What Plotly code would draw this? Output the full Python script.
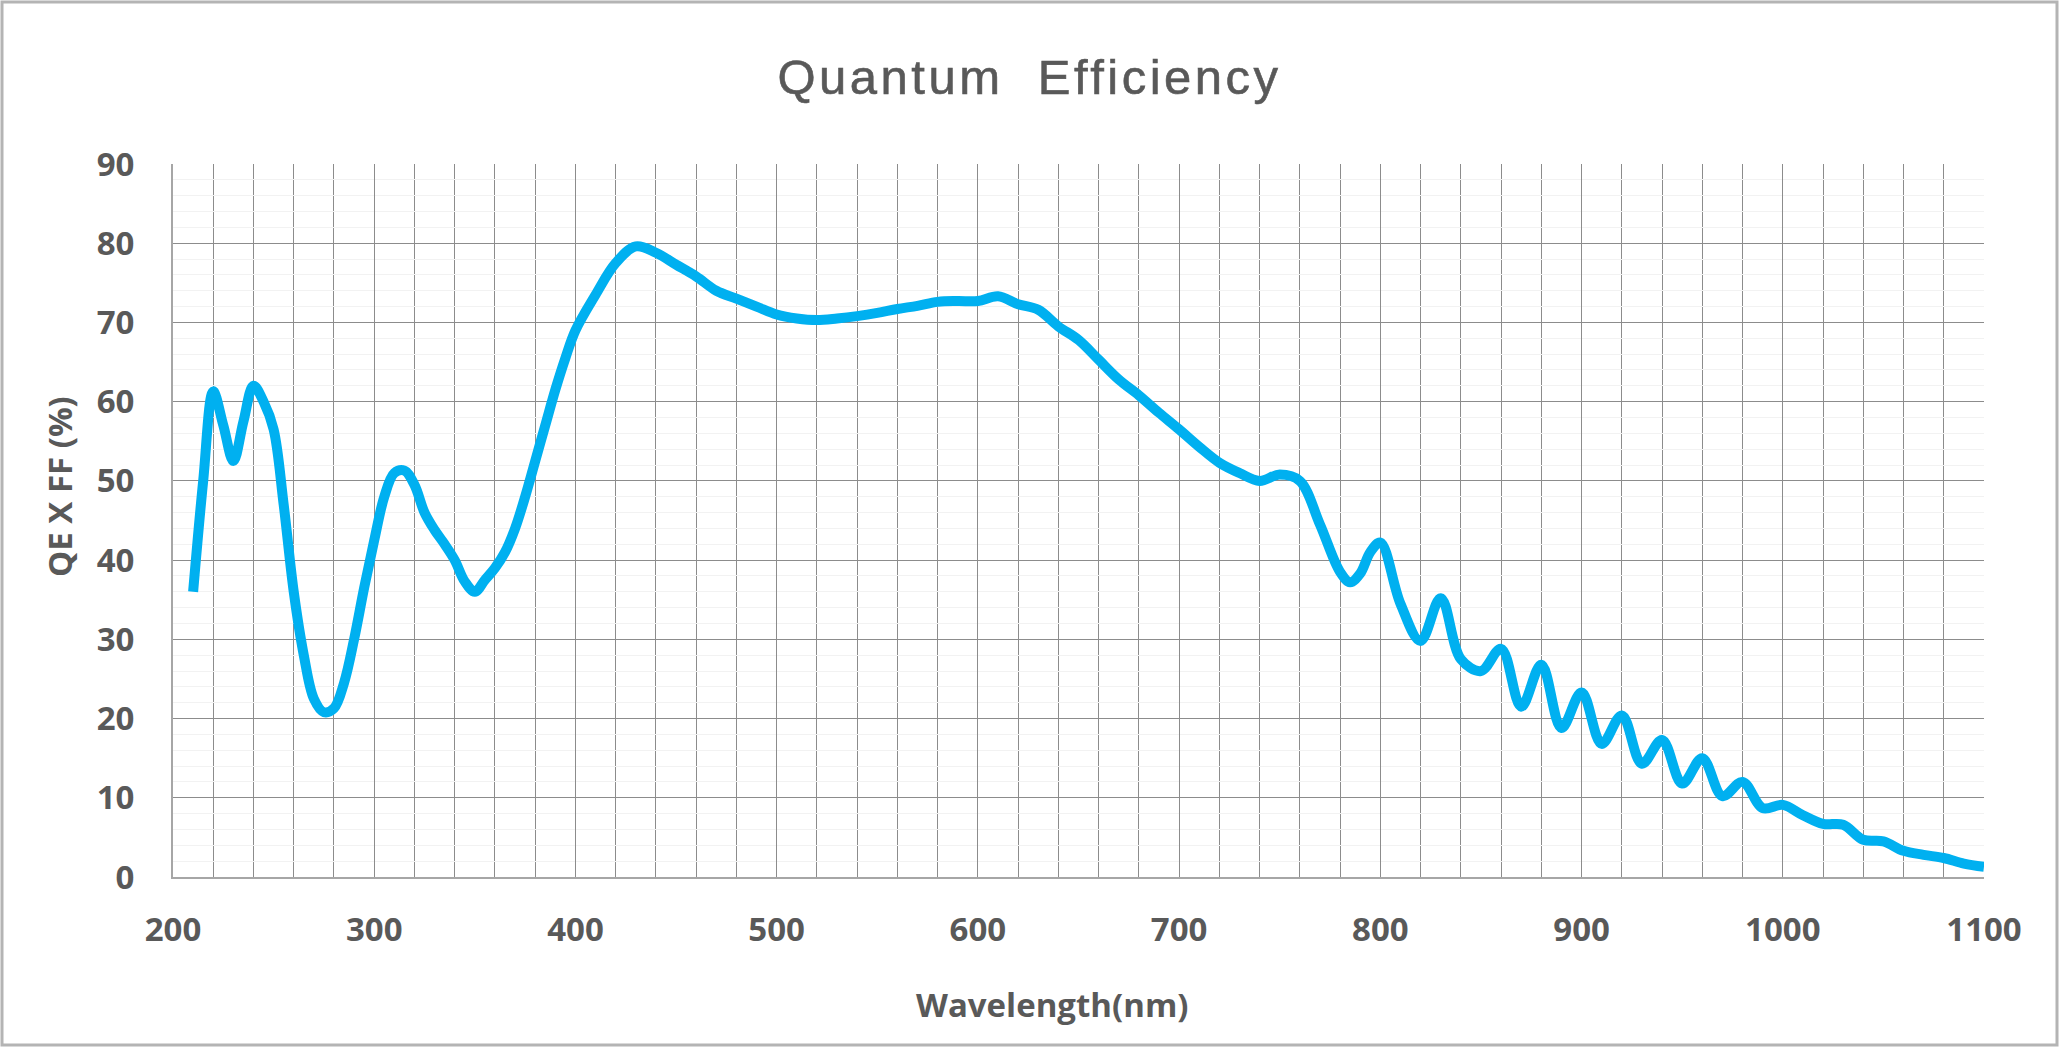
import plotly.graph_objects as go

wavelength = [210, 215, 220, 225, 230, 235, 240, 245, 250, 255, 260, 265, 270, 275, 280, 285,
              290, 295, 300, 305, 310, 315, 320, 325, 330, 335, 340, 345, 350, 355, 360, 365,
              370, 375, 380, 385, 390, 395, 400, 410, 420, 430, 440, 450, 460, 470, 480, 490,
              500, 510, 520, 530, 540, 550, 560, 570, 580, 590, 600, 610, 620, 630, 640, 650,
              660, 670, 680, 690, 700, 710, 720, 730, 740, 750, 760, 770, 780, 785, 790, 795,
              800, 810, 820, 830, 840, 850, 860, 870, 880, 890, 900, 910, 920, 930, 940, 950,
              960, 970, 980, 990, 1000, 1010, 1020, 1030, 1040, 1050, 1060, 1070, 1080, 1090, 1100]
qe_ff = [36.0, 50.0, 61.3, 57.0, 52.5, 57.5, 62.0, 60.0, 56.5, 47.0, 36.0, 28.0, 22.5, 20.8, 21.3, 24.5,
         30.0, 36.5, 42.5, 48.0, 51.0, 51.3, 49.5, 46.0, 43.8, 42.0, 40.0, 37.3, 36.0, 37.5, 39.0, 41.0,
         44.0, 48.0, 52.5, 57.0, 61.5, 65.5, 69.0, 73.5, 77.5, 79.6, 78.8, 77.3, 75.8, 74.0, 73.0, 72.0,
         71.0, 70.5, 70.3, 70.5, 70.8, 71.2, 71.7, 72.1, 72.6, 72.7, 72.7, 73.3, 72.3, 71.6, 69.5, 67.8,
         65.3, 62.8, 60.8, 58.6, 56.5, 54.3, 52.3, 51.0, 50.0, 50.8, 50.0, 44.5, 38.5, 37.2, 38.3, 41.0,
         42.2, 34.5, 29.8, 35.2, 27.5, 26.0, 28.8, 21.5, 26.8, 18.8, 23.3, 16.8, 20.4, 14.3, 17.3, 11.8,
         15.0, 10.2, 12.0, 8.7, 9.1, 7.8, 6.7, 6.6, 4.7, 4.5, 3.3, 2.8, 2.4, 1.7, 1.3]

x_ticks = [200, 300, 400, 500, 600, 700, 800, 900, 1000, 1100]
y_ticks = [0, 10, 20, 30, 40, 50, 60, 70, 80, 90]

title_text = "Quantum  Efficiency"
x_title = "Wavelength(nm)"
y_title = "QE X FF (%)"

W, H = 2059, 1047
ML, MR, MT, MB = 173, 75, 164, 170
PW, PH = W - ML - MR, H - MT - MB

text_col = "#595959"
grid_col = "#8c8c8c"

fig = go.Figure()
fig.add_trace(go.Scatter(
    x=wavelength, y=qe_ff, mode="lines",
    line=dict(color="#00B0F0", width=10, shape="spline", smoothing=1.0),
    showlegend=False, hoverinfo="x+y"))

fig.update_layout(
    width=W, height=H,
    margin=dict(l=ML, r=MR, t=MT, b=MB),
    paper_bgcolor="white", plot_bgcolor="white",
    title=dict(text=title_text, x=0.5, xanchor="center", y=1 - 77 / H, yanchor="middle",
               font=dict(family="Liberation Sans, Arial, sans-serif", size=49, color=text_col)),
    xaxis=dict(range=[200, 1100], tickmode="array", tickvals=x_ticks,
               ticktext=[str(v) for v in x_ticks],
               showgrid=True, gridcolor=grid_col, gridwidth=1,
               minor=dict(dtick=20, tick0=200, showgrid=True, gridcolor=grid_col, gridwidth=1),
               zeroline=False, showline=True, linecolor="#a6a6a6", linewidth=2, mirror=False,
               ticks="", ticklabelstandoff=22,
               tickfont=dict(family="Open Sans, sans-serif", size=33, color=text_col, weight="bold")),
    yaxis=dict(range=[0, 90], tickmode="array", tickvals=y_ticks,
               ticktext=[str(v) for v in y_ticks],
               showgrid=True, gridcolor=grid_col, gridwidth=1,
               minor=dict(dtick=2, tick0=0, showgrid=True, gridcolor="#f2f2f2", gridwidth=1),
               zeroline=False, showline=True, linecolor="#a6a6a6", linewidth=2, mirror=False,
               ticks="", ticklabelstandoff=30,
               tickfont=dict(family="Open Sans, sans-serif", size=33, color=text_col, weight="bold")),
    annotations=[
        dict(text=x_title, xref="paper", yref="paper",
             x=(1052 - ML) / PW, y=-(1004 - MT - PH) / PH, xanchor="center", yanchor="middle",
             showarrow=False,
             font=dict(family="Open Sans, sans-serif", size=33, color=text_col, weight="bold")),
        dict(text=y_title, xref="paper", yref="paper",
             x=-(ML - 59) / PW, y=1 - (487 - MT) / PH, xanchor="center", yanchor="middle",
             textangle=-90, showarrow=False,
             font=dict(family="Open Sans, sans-serif", size=33, color=text_col, weight="bold")),
    ],
    shapes=[
        dict(type="rect", xref="paper", yref="paper",
             x0=-(ML - 2) / PW, x1=1 + (MR - 2) / PW, y0=-(MB - 2) / PH, y1=1 + (MT - 2) / PH,
             line=dict(color="#b4b4b4", width=3), fillcolor="rgba(0,0,0,0)", layer="below"),
    ],
)

post = (
    "document.body.style.margin='0';"
    "document.body.style.overflow='hidden';"
    "document.querySelectorAll('.gtitle').forEach(function(e){e.style.letterSpacing='3.5px';"
    "e.style.stroke='#595959';e.style.strokeWidth='0.6px';});"
)
fig.write_html("out.html", post_script=post, config={"displayModeBar": False})
